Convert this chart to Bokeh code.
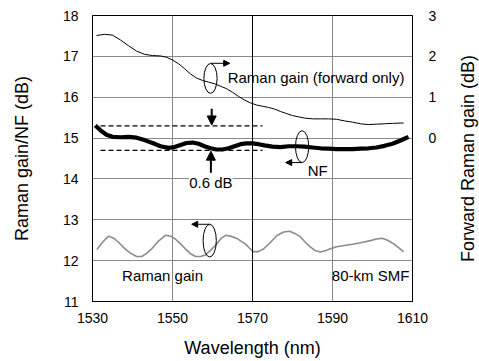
import math
from bokeh.plotting import figure
from bokeh.layouts import row
from bokeh.models import (Range1d, LinearAxis, FixedTicker, Span, Arrow, NormalHead, Label)
from bokeh.embed import file_html
from bokeh.resources import INLINE

# ---- data ----
wl_fwd = [1531.0, 1533.0, 1535.0, 1537.0, 1539.0, 1541.0, 1543.0, 1545.0, 1547.0, 1548.5,
          1550.0, 1551.5, 1553.0, 1554.5, 1556.0, 1557.5, 1559.0, 1560.5, 1562.0, 1563.5,
          1565.0, 1566.5, 1568.0, 1569.5, 1571.0, 1572.5, 1574.0, 1575.5, 1577.0, 1578.5,
          1580.0, 1581.5, 1583.0, 1585.0, 1587.0, 1589.0, 1591.0, 1593.0, 1595.0, 1597.0,
          1599.0, 1601.0, 1603.0, 1605.0, 1607.8]
fwd_gain = [2.51, 2.54, 2.52, 2.40, 2.26, 2.13, 2.05, 2.02, 2.01, 1.98,
            1.91, 1.82, 1.70, 1.57, 1.47, 1.41, 1.37, 1.33, 1.27, 1.21,
            1.12, 1.02, 0.93, 0.86, 0.81, 0.78, 0.75, 0.71, 0.65, 0.60,
            0.55, 0.52, 0.49, 0.47, 0.47, 0.47, 0.46, 0.42, 0.39, 0.35,
            0.33, 0.34, 0.35, 0.36, 0.37]

wl_nf = [1530.7, 1532.0, 1533.5, 1535.0, 1537.0, 1539.0, 1541.0, 1543.0, 1545.0, 1547.0,
         1549.0, 1550.5, 1552.0, 1553.5, 1555.0, 1556.5, 1558.0, 1559.5, 1561.0, 1562.5,
         1564.0, 1565.5, 1567.0, 1568.5, 1570.0, 1571.5, 1573.0, 1575.0, 1577.0, 1579.0,
         1581.0, 1583.0, 1585.0, 1587.0, 1589.0, 1591.0, 1593.0, 1595.0, 1597.0, 1599.0,
         1601.0, 1603.0, 1605.0, 1607.0, 1609.0]
nf = [15.31, 15.19, 15.08, 15.03, 15.02, 15.03, 15.01, 14.95, 14.88, 14.80,
      14.76, 14.78, 14.83, 14.88, 14.89, 14.86, 14.80, 14.75, 14.72, 14.72,
      14.75, 14.80, 14.85, 14.87, 14.87, 14.85, 14.82, 14.79, 14.78, 14.80,
      14.80, 14.79, 14.77, 14.75, 14.74, 14.73, 14.73, 14.73, 14.74, 14.75,
      14.77, 14.81, 14.86, 14.94, 15.03]

wl_rg = [1531.1, 1532.5, 1534.0, 1535.3, 1536.5, 1538.0, 1539.4, 1541.0, 1542.3, 1543.5,
         1544.8, 1546.5, 1548.2, 1549.5, 1550.7, 1552.0, 1553.2, 1554.5, 1555.8, 1557.0,
         1558.2, 1559.5, 1561.0, 1562.2, 1563.3, 1564.5, 1566.0, 1567.2, 1568.2, 1569.2,
         1570.2, 1571.5, 1572.8, 1574.5, 1576.2, 1577.8, 1579.3, 1580.7, 1582.0, 1583.2,
         1584.5, 1585.8, 1587.0, 1588.2, 1589.5, 1591.0, 1593.0, 1595.0, 1597.0, 1599.5,
         1601.0, 1602.4, 1603.8, 1605.3, 1606.5, 1607.8]
raman_gain = [12.27, 12.45, 12.60, 12.55, 12.45, 12.30, 12.19, 12.10, 12.10, 12.18,
              12.29, 12.48, 12.62, 12.60, 12.53, 12.41, 12.29, 12.17, 12.10, 12.10,
              12.14, 12.25, 12.40, 12.55, 12.62, 12.60, 12.55, 12.47, 12.41, 12.31,
              12.22, 12.22, 12.29, 12.45, 12.62, 12.70, 12.72, 12.66, 12.58, 12.45,
              12.33, 12.24, 12.21, 12.24, 12.29, 12.34, 12.37, 12.40, 12.44, 12.49,
              12.53, 12.55, 12.50, 12.41, 12.32, 12.22]

x_ticks = [1530, 1550, 1570, 1590, 1610]
left_ticks = [11, 12, 13, 14, 15, 16, 17, 18]
right_ticks = [0, 1, 2, 3]
nf_band = [15.3, 14.7]   # 0.6 dB band

x_title = "Wavelength (nm)"
left_title = "Raman gain/NF (dB)"
right_title = "Forward Raman gain (dB)"

FONT = "Liberation Sans"
GRID = "#8a8a8a"

p = figure(width=440, height=361, output_backend="svg", toolbar_location=None,
           x_range=Range1d(1530, 1610), y_range=Range1d(11, 18),
           min_border_left=92, min_border_right=28, min_border_top=15, min_border_bottom=60)
p.extra_y_ranges = {"fwd": Range1d(-4, 3)}
p.background_fill_color = "white"
p.border_fill_color = "white"
p.outline_line_color = "black"
p.outline_line_width = 1

# axes
p.xaxis.ticker = FixedTicker(ticks=x_ticks)
p.yaxis.ticker = FixedTicker(ticks=left_ticks)
p.xaxis.axis_label = x_title
p.yaxis.axis_label = left_title
right = LinearAxis(y_range_name="fwd", ticker=FixedTicker(ticks=right_ticks))
p.add_layout(right, "right")

for ax in [p.xaxis[0], p.yaxis[0], right]:
    ax.major_tick_out = 0
    ax.major_tick_in = 0
    ax.minor_tick_out = 0
    ax.minor_tick_in = 0
    ax.axis_line_color = "black"
    ax.major_label_text_font = FONT
    ax.major_label_text_font_size = "14px"
    ax.major_label_text_color = "black"
    ax.axis_label_text_font = FONT
    ax.axis_label_text_font_size = "18px"
    ax.axis_label_text_font_style = "normal"
    ax.axis_label_text_color = "black"

p.xaxis.major_label_standoff = 11
p.xaxis.axis_label_standoff = 12
p.yaxis[0].major_label_standoff = 14
p.yaxis[0].axis_label_standoff = 28
right.major_label_standoff = 16

# grid
p.xgrid.ticker = FixedTicker(ticks=[1550, 1590])
p.ygrid.ticker = FixedTicker(ticks=left_ticks[1:-1])
p.xgrid.grid_line_color = GRID
p.ygrid.grid_line_color = GRID
p.xgrid.grid_line_alpha = 1
p.ygrid.grid_line_alpha = 1
p.add_layout(Span(location=1570, dimension="height", line_color="black", line_width=1))

# curves
p.line(wl_rg, raman_gain, line_color="#8c8c8c", line_width=1.6)
p.line(wl_fwd, fwd_gain, y_range_name="fwd", line_color="black", line_width=1)
p.line(wl_nf, nf, line_color="black", line_width=4.2, line_join="round")

# dashed band lines
for lvl in nf_band:
    p.line([1532, 1572.5], [lvl, lvl], line_color="black", line_width=1.2, line_dash="5 3")

# 0.6 dB arrows
p.add_layout(Arrow(end=NormalHead(size=9, fill_color="black", line_color="black"),
                   x_start=1559.8, y_start=15.72, x_end=1559.8, y_end=15.32,
                   line_width=2, line_color="black"))
p.add_layout(Arrow(end=NormalHead(size=9, fill_color="black", line_color="black"),
                   x_start=1559.6, y_start=14.15, x_end=1559.6, y_end=14.68,
                   line_width=2, line_color="black"))

# ellipses marking curves
p.ellipse(x=[1559.5, 1582.4, 1559.3], y=[16.46, 14.79, 12.49],
          width=[3.3, 3.3, 3.3], height=[0.73, 0.78, 0.80],
          fill_color=None, line_color="black", line_width=1)

small = dict(size=6, fill_color="black", line_color="black")
p.add_layout(Arrow(end=NormalHead(**small), x_start=1559.5, y_start=16.83,
                   x_end=1564.3, y_end=16.83, line_width=1, line_color="black"))
p.add_layout(Arrow(end=NormalHead(**small), x_start=1582.4, y_start=14.40,
                   x_end=1578.3, y_end=14.40, line_width=1, line_color="black"))
p.add_layout(Arrow(end=NormalHead(**small), x_start=1559.3, y_start=12.89,
                   x_end=1554.8, y_end=12.89, line_width=1, line_color="black"))

# text annotations
def lab(x, y, t, align="left", bg=None):
    kw = dict(x=x, y=y, text=t, text_font=FONT, text_font_size="15px",
              text_color="black", text_align=align, text_baseline="middle")
    if bg:
        kw["background_fill_color"] = bg
    p.add_layout(Label(**kw))

lab(1563.8, 16.49, "Raman gain (forward only)")
lab(1583.8, 14.21, "NF")
lab(1559.6, 13.92, "0.6 dB", align="center", bg="white")
lab(1537.4, 11.64, "Raman gain")
lab(1609.2, 11.64, "80-km SMF", align="right")

# narrow companion panel carrying the right-hand title (reads bottom-to-top)
p2 = figure(width=39, height=361, output_backend="svg", toolbar_location=None,
            x_axis_location=None, x_range=Range1d(0, 1), y_range=Range1d(0, 1),
            min_border_left=37, min_border_right=0, min_border_top=15, min_border_bottom=60)
p2.outline_line_color = None
p2.grid.visible = False
p2.background_fill_color = "white"
p2.border_fill_color = "white"
ax2 = p2.yaxis[0]
ax2.ticker = FixedTicker(ticks=[])
ax2.axis_line_color = None
ax2.major_tick_out = 0
ax2.minor_tick_out = 0
ax2.major_label_standoff = 0
ax2.axis_label = right_title
ax2.axis_label_standoff = 0
ax2.axis_label_text_font = FONT
ax2.axis_label_text_font_size = "18px"
ax2.axis_label_text_font_style = "normal"
ax2.axis_label_text_color = "black"

layout = row(p, p2, spacing=0)
open("out.html", "w").write(file_html(layout, INLINE))
